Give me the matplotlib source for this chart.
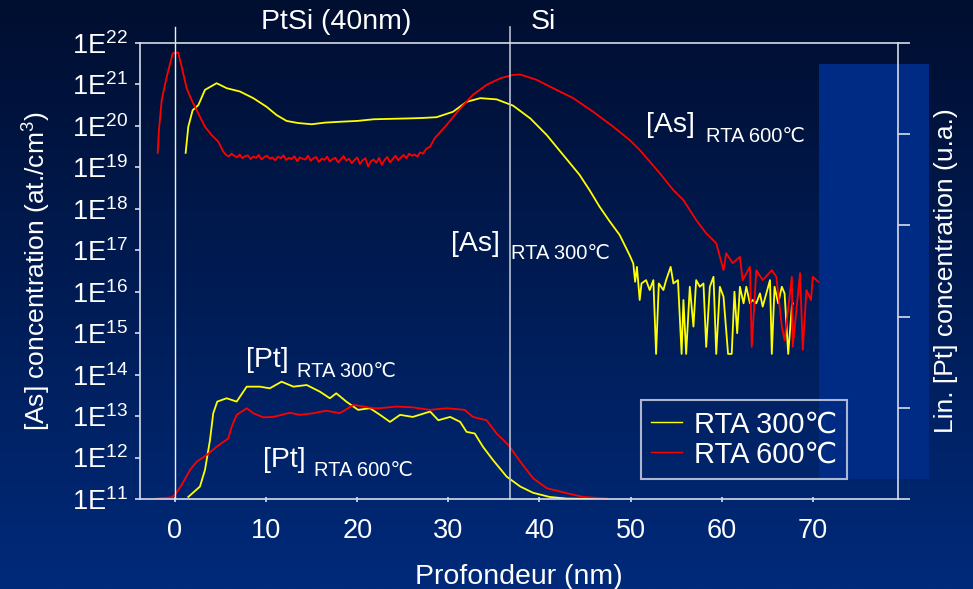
import numpy as np
import matplotlib
matplotlib.use("Agg")
import matplotlib.pyplot as plt
from matplotlib.patches import Rectangle
from matplotlib.lines import Line2D

plt.rcParams['font.family'] = ['Liberation Sans', 'DejaVu Sans']
plt.rcParams['mathtext.fontset'] = 'custom'
plt.rcParams['mathtext.rm'] = 'Liberation Sans'
plt.rcParams['mathtext.default'] = 'regular'

# ---------------- data (depth in nm, log10 concentration) ----------------
as300_x = [1.17, 1.46, 1.94, 2.56, 3.29, 4.57, 5.67, 7.13, 8.59, 10.06, 11.16, 12.25,
           13.5, 15.0, 16.5, 18.1, 20.0, 21.8, 23.6, 25.5, 27.0, 28.7, 30.5, 32.0,
           33.5, 35.3, 37.1, 39.0, 40.8, 42.6, 44.4, 45.5, 46.6, 47.7, 48.8, 49.9,
           50.3, 50.5, 50.7, 51.0, 51.2, 51.7, 52.1, 52.5, 52.8, 53.1, 53.6, 53.9,
           54.4, 54.7, 55.2, 55.6, 55.8, 56.1, 56.5, 56.9, 57.2, 57.6, 58.0, 58.3,
           58.7, 59.1, 59.4, 59.8, 60.2, 60.7, 61.1, 61.4, 61.7, 62.0, 62.4, 62.7,
           63.1, 63.4, 63.8, 64.2, 64.5, 64.9, 65.3, 65.5, 65.8, 66.2, 66.6, 66.9,
           67.3, 67.7, 67.8]
as300_y = [19.35, 19.98, 20.38, 20.50, 20.87, 21.03, 20.91, 20.83, 20.67, 20.46, 20.26, 20.12,
           20.07, 20.04, 20.08, 20.10, 20.12, 20.16, 20.17, 20.18, 20.19, 20.21, 20.34, 20.58,
           20.67, 20.64, 20.49, 20.18, 19.78, 19.30, 18.82, 18.45, 18.05, 17.70, 17.37, 16.88,
           16.68, 16.24, 16.60, 15.80, 16.20, 16.28, 16.04, 16.28, 14.50, 16.20, 16.04, 16.28,
           16.60, 16.20, 16.28, 14.50, 15.80, 14.50, 16.12, 15.16, 16.28, 16.12, 16.20, 14.67,
           16.12, 16.36, 14.50, 16.12, 15.88, 14.50, 14.50, 16.00, 15.00, 16.12, 15.72, 16.12,
           15.72, 15.80, 15.72, 15.96, 15.64, 15.96, 16.28, 14.50, 16.12, 15.72, 16.12, 15.96,
           14.50, 15.64, 15.72]

as600_x = [-1.9, -1.76, -1.46, -0.9, -0.25, 0.35, 0.73, 1.28, 1.83, 2.56, 3.29, 4.02, 4.75, 5.3,
           5.6, 5.9, 6.2, 6.5, 6.8, 7.1, 7.4, 7.7, 8.0, 8.3, 8.6, 8.9, 9.2, 9.5, 9.8, 10.1,
           10.4, 10.7, 11.0, 11.3, 11.6, 11.9, 12.2, 12.5, 12.8, 13.1, 13.4, 13.7, 14.0, 14.3,
           14.6, 14.9, 15.2, 15.5, 15.8, 16.1, 16.4, 16.7, 17.0, 17.3, 17.6, 17.9, 18.2, 18.5,
           18.8, 19.1, 19.4, 19.7, 20.0, 20.3, 20.6, 20.9, 21.2, 21.5, 21.8, 22.1, 22.4, 22.7,
           23.0, 23.3, 23.6, 23.9, 24.2, 24.5, 24.8, 25.1, 25.4, 25.7, 26.0, 26.3, 26.6, 26.9,
           27.2, 27.6, 28.0, 28.5, 29.8, 31.3, 32.7, 34.2, 35.7, 37.1, 37.9,
           39.7, 41.5, 43.7, 45.9, 48.1, 49.9, 51.0, 53.2, 54.7, 55.8, 57.2, 58.3, 59.4,
           60.2, 60.5, 61.2, 62.0, 62.3, 63.1, 63.3, 63.8, 64.5, 65.5, 66.0, 66.6, 66.9,
           67.7, 67.8, 68.6, 68.9, 69.3, 69.8, 70.0, 70.6]
as600_y = [19.35, 19.90, 20.62, 21.19, 21.75, 21.77, 21.43, 20.91, 20.62, 20.30, 19.98, 19.78, 19.62, 19.38,
           19.30, 19.26, 19.33, 19.28, 19.24, 19.31, 19.22, 19.27, 19.29, 19.20,
           19.26, 19.23, 19.30, 19.19, 19.25, 19.28, 19.21, 19.24, 19.17, 19.26,
           19.22, 19.29, 19.18, 19.23, 19.20, 19.27, 19.15, 19.24, 19.21, 19.19,
           19.28, 19.16, 19.22, 19.25, 19.13, 19.21, 19.18, 19.26, 19.14, 19.20,
           19.23, 19.12, 19.19, 19.27, 19.16, 19.21, 19.10, 19.18, 19.24, 19.08,
           19.17, 19.22, 19.02, 19.15, 19.19, 19.11, 19.23, 19.06, 19.18, 19.25,
           19.12, 19.20, 19.28, 19.17, 19.24, 19.30, 19.22, 19.33, 19.28, 19.31,
           19.26, 19.36, 19.33,
           19.45, 19.50, 19.70, 20.02, 20.42, 20.75, 20.99, 21.15, 21.23, 21.24,
           21.11, 20.91, 20.67, 20.34, 19.98, 19.66, 19.42, 18.86, 18.45, 18.21, 17.73, 17.41, 17.17,
           16.52, 16.93, 16.69, 16.84, 16.28, 16.60, 14.67, 16.52, 16.28, 16.52, 16.36, 15.16, 14.83,
           16.36, 14.67, 16.45, 14.60, 16.04, 15.80, 16.36, 16.24]

pt300_x = [1.46, 2.74, 3.29, 3.84, 4.2, 4.64, 5.67, 6.77, 7.87, 9.33, 10.4, 11.7, 13.0, 14.45,
           15.9, 17.0, 17.7, 18.8, 20.1, 21.4, 22.5, 23.6, 24.7, 26.1, 28.0, 28.9, 30.2, 31.3,
           32.0, 32.9, 33.8, 34.9, 36.4, 37.9, 39.3, 41.1, 43.0, 46.2]
pt300_y = [11.05, 11.30, 11.70, 12.42, 13.07, 13.35, 13.43, 13.35, 13.71, 13.71, 13.67, 13.83, 13.71, 13.75,
           13.59, 13.43, 13.55, 13.35, 13.15, 13.19, 13.03, 12.86, 13.03, 12.98, 13.11, 12.90, 12.98, 12.86,
           12.62, 12.58, 12.26, 11.94, 11.54, 11.30, 11.15, 11.05, 11.01, 11.00]

pt600_x = [-2.0, -0.37, 0.0, 0.73, 1.65, 2.38, 3.48, 4.57, 5.85, 6.22, 6.77, 7.87, 8.59, 9.69,
           10.79, 12.6, 13.7, 15.2, 16.6, 18.1, 19.6, 21.8, 22.5, 24.3, 26.1, 28.0, 29.8, 31.8,
           32.7, 34.2, 35.3, 36.6, 37.9, 39.3, 40.8, 43.0, 44.8, 47.4]
pt600_y = [11.01, 11.04, 11.10, 11.34, 11.70, 11.90, 12.06, 12.26, 12.46, 12.74, 13.03, 13.19, 13.07, 12.97,
           12.98, 13.08, 13.03, 13.07, 13.13, 13.07, 13.27, 13.19, 13.19, 13.23, 13.21, 13.15, 13.19, 13.15,
           12.98, 12.90, 12.58, 12.30, 11.90, 11.50, 11.26, 11.14, 11.05, 11.01]

interfaces = [0.0, 36.8]
x_ticks = [0, 10, 20, 30, 40, 50, 60, 70]
y_exponents = list(range(11, 23))
series_labels = ['RTA 300\u2103', 'RTA 600\u2103']

W, H = 973, 589
fig = plt.figure(figsize=(W / 100, H / 100), dpi=100)

def fx(px):
    return px / W

def fy(py):
    return 1 - py / H

# background gradient
bg = fig.add_axes([0, 0, 1, 1], zorder=-5)
top = np.array([0, 14, 48]) / 255
bot = np.array([0, 42, 122]) / 255
t = np.linspace(0, 1, 256)[:, None]
grad = top[None, :] * (1 - t) + bot[None, :] * t
bg.imshow(grad[:, None, :], aspect='auto', extent=[0, 1, 0, 1])
bg.add_patch(Rectangle((fx(819), fy(479)), fx(929) - fx(819), fy(64) - fy(479),
                       color='#002b84', lw=0))
bg.set_xlim(0, 1)
bg.set_ylim(0, 1)
bg.axis('off')

ax = fig.add_axes([fx(140), fy(499), fx(898) - fx(140), fy(43) - fy(499)])
ax.set_facecolor('none')
ax.set_yscale('log')
ax.set_xlim(-3.84, 79.35)
ax.set_ylim(1e11, 1e22)

yel = '#ffff00'
red = '#ff0000'
ax.plot(as300_x, 10 ** np.array(as300_y), color=yel, lw=1.3)
ax.plot(as600_x, 10 ** np.array(as600_y), color=red, lw=1.3)
ax.plot(pt300_x, 10 ** np.array(pt300_y), color=yel, lw=1.3)
ax.plot(pt600_x, 10 ** np.array(pt600_y), color=red, lw=1.3)

ax.axvline(interfaces[0], ymin=0, ymax=1.035, clip_on=False, color='#f0f0f0', lw=1.0)
ax.axvline(interfaces[1], ymin=0, ymax=1.035, clip_on=False, color='#b8bfd0', lw=1.2)

spine_c = '#d8dce8'
for s in ax.spines.values():
    s.set_color(spine_c)
    s.set_linewidth(1.2)

ax.set_yticks([10.0 ** e for e in y_exponents])
ax.set_yticklabels([r'1E$^{%d}$' % e for e in y_exponents])
ax.yaxis.set_minor_locator(matplotlib.ticker.NullLocator())
ax.tick_params(axis='y', which='major', direction='out', length=3.6, width=1.2,
               color=spine_c, labelcolor='white', labelsize=19.5, pad=5)
ax.set_xticks(x_ticks)
ax.tick_params(axis='x', direction='inout', length=3.6, width=1.2, color=spine_c,
               labelcolor='white', labelsize=19.5, pad=12)

ax.set_xlabel('Profondeur (nm)', color='white', fontsize=20.5, labelpad=14)
ax.set_ylabel('[As] concentration (at./cm$^{3}$)', color='white', fontsize=19, labelpad=14)

ax2 = ax.twinx()
ax2.set_ylim(0, 5)
ax2.set_yticks(range(6))
ax2.tick_params(axis='y', direction='out', length=8.6, width=1.2, color=spine_c,
                labelright=False)
for s in ax2.spines.values():
    s.set_visible(False)
ax2.set_ylabel('Lin. [Pt] concentration (u.a.)', color='white', fontsize=19, labelpad=17)

# top labels
fig.text(fx(336), fy(22), 'PtSi (40nm)', color='white', fontsize=20.5, ha='center', va='center')
fig.text(fx(543), fy(22), 'Si', color='white', fontsize=20.5, ha='center', va='center')

# curve annotations
def annot(px_big, py_base, big, px_small, py_small, small):
    fig.text(fx(px_big), fy(py_base), big, color='white', fontsize=20.5, ha='left', va='baseline')
    fig.text(fx(px_small), fy(py_small), small, color='white', fontsize=14.5, ha='left', va='baseline')

annot(646, 132, '[As]', 706, 142, series_labels[1])
annot(451, 251, '[As]', 511, 259, series_labels[0])
annot(246, 367, '[Pt]', 297, 377, series_labels[0])
annot(263, 467, '[Pt]', 314, 476, series_labels[1])

handles = [Line2D([], [], color=yel, lw=1.0), Line2D([], [], color=red, lw=1.0)]
leg = ax.legend(handles, series_labels, loc='upper left',
                bbox_to_anchor=(fx(641), fy(400)), bbox_transform=fig.transFigure,
                borderaxespad=0, frameon=True, fancybox=False, fontsize=21,
                handlelength=1.05, handletextpad=0.4, borderpad=0.35, labelspacing=0.08)
leg.get_frame().set_facecolor('none')
leg.get_frame().set_edgecolor(spine_c)
leg.get_frame().set_linewidth(1.5)
for txt in leg.get_texts():
    txt.set_color('white')

fig.savefig('out.png', dpi=100)
